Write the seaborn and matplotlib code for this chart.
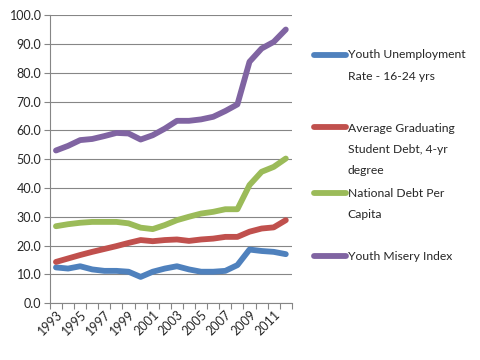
import numpy as np
import pandas as pd
import seaborn as sns
import matplotlib.pyplot as plt
from matplotlib.ticker import FormatStrFormatter
from matplotlib.legend_handler import HandlerLine2D

years = list(range(1993, 2013))
youth_unemployment = [12.4, 12.0, 12.8, 11.7, 11.2, 11.2, 10.9, 9.1, 10.9, 12.0,
                      12.8, 11.7, 10.9, 10.9, 11.2, 13.2, 18.6, 18.1, 17.8, 17.0]
student_debt = [14.3, 15.5, 16.7, 17.8, 18.8, 19.8, 20.9, 21.9, 21.5, 21.9,
                22.1, 21.6, 22.1, 22.4, 23.0, 23.0, 24.8, 25.9, 26.3, 28.8]
national_debt = [26.7, 27.4, 27.9, 28.2, 28.2, 28.2, 27.7, 26.2, 25.7, 27.1,
                 28.8, 30.0, 31.1, 31.7, 32.6, 32.6, 41.0, 45.6, 47.3, 50.2]
misery_index = [53.0, 54.6, 56.6, 57.0, 58.0, 59.1, 58.9, 56.8, 58.3, 60.6,
                63.3, 63.3, 63.8, 64.7, 66.7, 69.0, 83.8, 88.4, 90.7, 95.0]

series_names = ["Youth Unemployment\nRate - 16-24 yrs",
                "Average Graduating\nStudent Debt, 4-yr\ndegree",
                "National Debt Per\nCapita",
                "Youth Misery Index"]
colors = ["#4F81BD", "#C0504D", "#9BBB59", "#8064A2"]

# long format for seaborn
frames = []
for name, vals in zip(series_names, [youth_unemployment, student_debt, national_debt, misery_index]):
    frames.append(pd.DataFrame({"pos": range(len(years)), "value": vals, "series": name}))
df = pd.concat(frames, ignore_index=True)

sns.set_style("white")
plt.rcParams['font.family'] = ['Lato', 'DejaVu Sans']

fig = plt.figure(figsize=(4.8, 3.6), dpi=100)
ax = fig.add_axes([0.104, 0.158, 0.504, 0.8])

sns.lineplot(data=df, x="pos", y="value", hue="series", palette=colors,
             linewidth=4.2, ax=ax, legend=False, solid_capstyle="round")

ax.set_ylim(0, 100)
ax.set_xlim(-0.5, len(years) - 0.5)
ax.set_yticks(range(0, 101, 10))
ax.yaxis.set_major_formatter(FormatStrFormatter('%.1f'))
ax.grid(axis="y", color="#868686", linewidth=0.8)
ax.set_axisbelow(True)

# category axis: tick marks between categories, labels every other year
ax.set_xticks([i - 0.5 for i in range(len(years) + 1)])
ax.set_xticklabels([])
ax.set_xticks(list(range(0, len(years), 2)), minor=True)
ax.set_xticklabels([str(y) for y in years[::2]], minor=True, rotation=45,
                   ha="right", rotation_mode="anchor")
ax.tick_params(axis="x", which="major", length=4, color="#868686", direction="out")
ax.tick_params(axis="x", which="minor", length=0, labelsize=9, pad=4)
ax.tick_params(axis="y", length=4, color="#868686", labelsize=9, direction="out", pad=2)
ax.tick_params(axis="both", which="both", bottom=True, left=True)

for s in ["top", "right"]:
    ax.spines[s].set_visible(False)
for s in ["left", "bottom"]:
    ax.spines[s].set_color("#868686")
    ax.spines[s].set_linewidth(0.8)
ax.set_xlabel("")
ax.set_ylabel("")


class FirstLineHandler(HandlerLine2D):
    """legend line next to the first text line, like Excel"""
    def __init__(self, shift):
        super().__init__()
        self.shift = shift

    def create_artists(self, *args, **kwargs):
        arts = super().create_artists(*args, **kwargs)
        for a in arts:
            a.set_ydata(np.asarray(a.get_ydata()) + self.shift)
        return arts


line_pitch_pt = 22.5 * 72 / 100
centers_px = [65.5, 149.5, 204, 257]
for name, c, yc in zip(series_names, colors, centers_px):
    h = plt.Line2D([], [], color=c, linewidth=4.2, solid_capstyle="round")
    n = name.count("\n") + 1
    leg = fig.legend([h], [name], loc="center left", bbox_to_anchor=(0.655, 1 - yc / 360),
                     frameon=False, fontsize=8.7, handlelength=2.6, handletextpad=0.15,
                     borderpad=0, borderaxespad=0,
                     handler_map={h: FirstLineHandler((n - 1) / 2 * line_pitch_pt)})
    for t in leg.get_texts():
        t.set_linespacing(2.15)

plt.savefig("out.png", dpi=100)
